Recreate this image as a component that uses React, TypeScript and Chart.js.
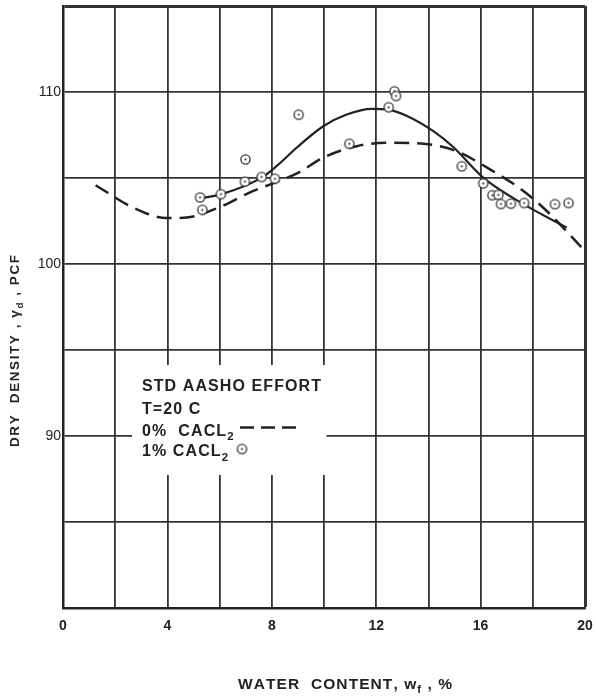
import React, { useEffect, useRef } from 'react';
import { Chart, registerables } from 'chart.js';

Chart.register(...registerables);

// ---------- data ----------
const xTickLabels = [0, 4, 8, 12, 16, 20];
const yTickLabels = [90, 100, 110];

// 1% CaCl2 measured points (circles)
const pointsX = [5.25, 5.34, 6.05, 6.99, 6.97, 7.61, 8.12, 9.03, 10.97, 12.48, 12.70, 12.76, 15.28, 16.10, 16.45, 16.68, 16.78, 17.16, 17.67, 18.85, 19.37];
const pointsY = [103.87, 103.15, 104.06, 106.08, 104.79, 105.06, 104.96, 108.68, 106.99, 109.11, 110.04, 109.77, 105.68, 104.69, 104.0, 104.02, 103.49, 103.51, 103.55, 103.48, 103.55];

// 1% CaCl2 fitted curve (solid)
const solidX = [5.25, 6.08, 7.61, 8.19, 8.95, 9.97, 10.87, 11.83, 12.46, 13.16, 14.19, 14.95, 16.10, 17.64, 19.30];
const solidY = [103.82, 104.06, 105.02, 105.70, 106.76, 108.01, 108.69, 109.02, 108.98, 108.62, 107.72, 106.80, 105.02, 103.48, 102.12];

// 0% CaCl2 curve (dashed)
const dashedX = [1.25, 2.69, 3.97, 4.74, 6.02, 7.29, 8.12, 9.0, 9.97, 11.25, 12.53, 14.06, 15.08, 16.36, 17.64, 18.66, 19.87];
const dashedY = [104.58, 103.28, 102.67, 102.70, 103.32, 104.25, 104.73, 105.3, 106.18, 106.85, 107.05, 106.95, 106.56, 105.50, 104.25, 102.90, 100.96];

const legendLines = ['STD AASHO EFFORT', 'T=20 C'];

// ---------- helpers ----------
type Seg = { t: string; sub?: boolean };

function segFont(size: number, weight: string, family: string, sub?: boolean) {
  return `${weight} ${sub ? size * 0.72 : size}px ${family}`;
}

function richWidth(ctx: CanvasRenderingContext2D, segs: Seg[], size: number, weight: string, family: string, spacing: number) {
  let w = 0;
  for (const s of segs) {
    ctx.font = segFont(size, weight, family, s.sub);
    for (const ch of s.t) w += ctx.measureText(ch).width + spacing;
  }
  return w - spacing;
}

function fitSpacing(ctx: CanvasRenderingContext2D, segs: Seg[], size: number, weight: string, family: string, target: number) {
  const w0 = richWidth(ctx, segs, size, weight, family, 0);
  let n = 0;
  for (const s of segs) n += [...s.t].length;
  return (target - w0) / Math.max(1, n - 1);
}

function drawRich(ctx: CanvasRenderingContext2D, segs: Seg[], x: number, baseline: number, size: number, weight: string, family: string, spacing: number) {
  let cx = x;
  ctx.textBaseline = 'alphabetic';
  ctx.textAlign = 'left';
  for (const s of segs) {
    ctx.font = segFont(size, weight, family, s.sub);
    const yy = s.sub ? baseline + size * 0.3 : baseline;
    for (const ch of s.t) {
      ctx.fillText(ch, cx, yy);
      cx += ctx.measureText(ch).width + spacing;
    }
  }
  return cx;
}

function makeMarker() {
  const c = document.createElement('canvas');
  c.width = 13;
  c.height = 13;
  const g = c.getContext('2d')!;
  g.fillStyle = '#fff';
  g.beginPath();
  g.arc(6.5, 6.5, 4.6, 0, Math.PI * 2);
  g.fill();
  g.lineWidth = 1.3;
  g.strokeStyle = '#333';
  g.stroke();
  g.fillStyle = '#333';
  g.beginPath();
  g.arc(6.5, 6.5, 1.1, 0, Math.PI * 2);
  g.fill();
  return c;
}

const FAMILY = "'Liberation Sans', 'DejaVu Sans', sans-serif";
const INK = '#222';

function zeroPad(s: any) {
  s.paddingLeft = 0;
  s.paddingRight = 0;
  s.paddingTop = 0;
  s.paddingBottom = 0;
}

export default function App() {
  const ref = useRef<HTMLCanvasElement | null>(null);

  useEffect(() => {
    if (!ref.current) return;
    const marker = makeMarker();

    const annotations = {
      id: 'annotations',
      beforeDatasetsDraw(chart: any) {
        const ctx = chart.ctx as CanvasRenderingContext2D;
        ctx.save();
        // white legend box interrupting grid
        ctx.fillStyle = '#fff';
        ctx.fillRect(132, 365, 194.5, 110);
        // legend text
        ctx.fillStyle = INK;
        const size = 16;
        const w = 'bold';
        const sp = fitSpacing(ctx, [{ t: legendLines[0] }], size, w, FAMILY, 179);
        drawRich(ctx, [{ t: legendLines[0] }], 142, 391, size, w, FAMILY, sp);
        drawRich(ctx, [{ t: legendLines[1] }], 142, 413.5, size, w, FAMILY, sp);
        drawRich(ctx, [{ t: '0%  CACL' }, { t: '2', sub: true }], 142, 435.5, size, w, FAMILY, sp);
        drawRich(ctx, [{ t: '1% CACL' }, { t: '2', sub: true }], 142, 456, size, w, FAMILY, sp);
        // dashed sample
        ctx.strokeStyle = INK;
        ctx.lineWidth = 2.5;
        ctx.setLineDash([14, 7]);
        ctx.beginPath();
        ctx.moveTo(240, 427.5);
        ctx.lineTo(302, 427.5);
        ctx.stroke();
        ctx.setLineDash([]);
        ctx.drawImage(marker, 242 - 6.5, 449 - 6.5);
        ctx.restore();
      },
      afterDraw(chart: any) {
        const ctx = chart.ctx as CanvasRenderingContext2D;
        ctx.save();
        ctx.fillStyle = INK;
        // x title
        const xs: Seg[] = [{ t: 'WATER  CONTENT, w' }, { t: 'f', sub: true }, { t: ' , %' }];
        const xsize = 15.5;
        const xsp = fitSpacing(ctx, xs, xsize, 'bold', FAMILY, 214);
        drawRich(ctx, xs, 238, 688.5, xsize, 'bold', FAMILY, xsp);
        // y title
        const ys: Seg[] = [{ t: 'DRY  DENSITY , γ' }, { t: 'd', sub: true }, { t: ' , PCF' }];
        const ysize = 13.5;
        const ysp = fitSpacing(ctx, ys, ysize, 'bold', FAMILY, 192);
        ctx.translate(14, 351);
        ctx.rotate(-Math.PI / 2);
        drawRich(ctx, ys, -96, 5, ysize, 'bold', FAMILY, ysp);
        ctx.restore();
      },
    };

    const chart = new Chart(ref.current, {
      type: 'scatter',
      data: {
        datasets: [
          {
            label: '1% CaCl2',
            data: pointsX.map((x, i) => ({ x, y: pointsY[i] })),
            showLine: false,
            pointStyle: marker as any,
            pointRadius: 5,
            order: 0,
          },
          {
            label: '1% CaCl2 curve',
            data: solidX.map((x, i) => ({ x, y: solidY[i] })),
            showLine: true,
            borderColor: INK,
            borderWidth: 2.2,
            pointRadius: 0,
            cubicInterpolationMode: 'monotone',
            order: 1,
          },
          {
            label: '0% CaCl2',
            data: dashedX.map((x, i) => ({ x, y: dashedY[i] })),
            showLine: true,
            borderColor: INK,
            borderWidth: 2.5,
            borderDash: [15, 8],
            pointRadius: 0,
            cubicInterpolationMode: 'monotone',
            order: 2,
          },
        ],
      },
      options: {
        animation: false,
        responsive: false,
        maintainAspectRatio: false,
        layout: { padding: { left: 0, right: 11, top: 4, bottom: 0 } },
        plugins: { legend: { display: false }, tooltip: { enabled: false } },
        scales: {
          x: {
            type: 'linear',
            min: 0,
            max: 20,
            afterFit: (s: any) => { s.height = 90; zeroPad(s); },
            ticks: {
              stepSize: 2,
              autoSkip: false,
              maxRotation: 0,
              padding: 10,
              color: INK,
              font: { family: FAMILY, size: 14, weight: 'bold' },
              callback: (v: any) => (xTickLabels.includes(Number(v)) ? String(v) : ''),
            },
            grid: {
              color: '#333',
              lineWidth: (c: any) => (c.tick && c.tick.value === 20 ? 3 : 1.8),
              drawTicks: false,
            },
            border: { display: true, color: INK, width: 2.5 },
          },
          y: {
            type: 'linear',
            min: 80,
            max: 115,
            afterFit: (s: any) => { s.width = 63; zeroPad(s); },
            ticks: {
              stepSize: 5,
              autoSkip: false,
              padding: 2,
              color: INK,
              font: { family: FAMILY, size: 14 },
              callback: (v: any) => (yTickLabels.includes(Number(v)) ? String(v) : ''),
            },
            grid: {
              color: '#333',
              lineWidth: (c: any) => (c.tick && c.tick.value === 115 ? 3 : 1.8),
              drawTicks: false,
            },
            border: { display: true, color: INK, width: 2.5 },
          },
        },
      },
      plugins: [annotations],
    });
    return () => chart.destroy();
  }, []);

  return (
    <div style={{ position: 'absolute', left: 0, top: 0, width: 596, height: 698, background: '#fff' }}>
      <canvas ref={ref} width={596} height={698} style={{ display: 'block' }} />
    </div>
  );
}
